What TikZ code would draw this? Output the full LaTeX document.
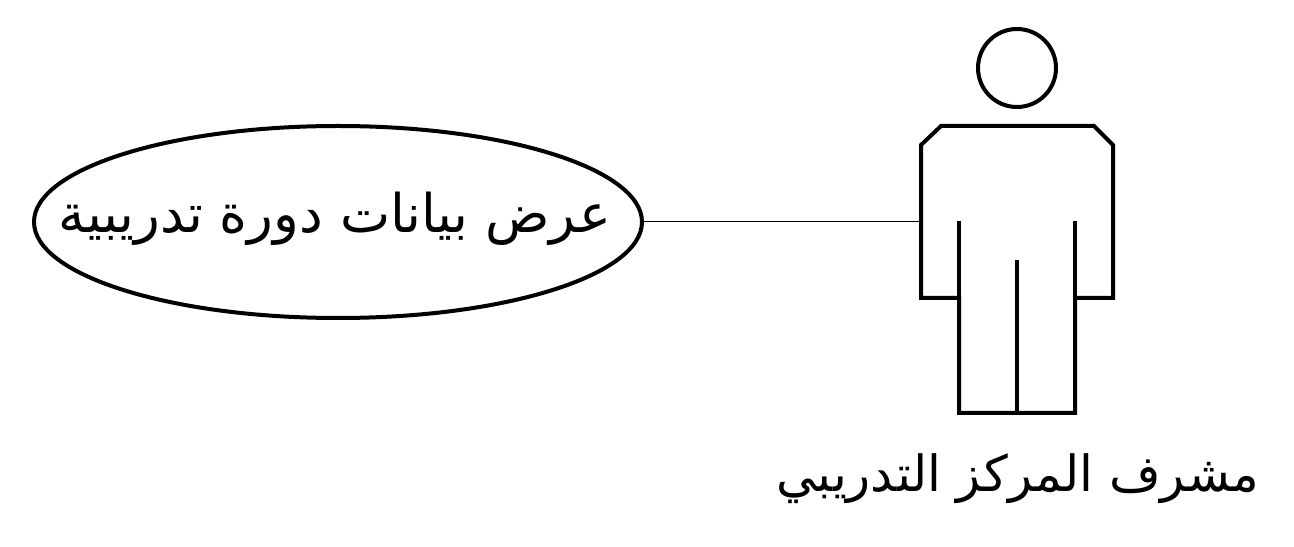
\documentclass[tikz,border=0pt]{standalone}
\usepackage{fontspec}
\newfontfamily\arabicfont[Script=Arabic]{DejaVu Sans}
\TeXXeTstate=1
\usetikzlibrary{shapes.geometric, positioning, calc}
\tikzset{
    usecase/.style={ellipse, draw, line width=4bp, minimum width=608bp, minimum height=192bp, inner sep=0pt},
    actorline/.style={line width=4bp, line join=miter},
    arabiclabel/.style={font=\arabicfont\fontsize{53.5}{58}\selectfont, inner sep=0pt}
}
\begin{document}
\begin{tikzpicture}[x=1bp, y=-1bp]
    \useasboundingbox (0,0) rectangle (1294,547);
    \node (viewdata) [usecase] at (338,222) {};
    \node (viewtext) [arabiclabel] at (335,219) {\beginR عرض بيانات دورة تدريبية\endR};
    \node (head) [circle, draw, line width=4bp, minimum size=78bp, inner sep=0pt] at (1017,68) {};
    \coordinate (shoulder) at (921,222);
    \draw [actorline] (941,126) -- (1094,126) -- (1113,145) -- (1113,298) -- (1075,298)
        -- (1075,413) -- (959,413) -- (959,298) -- (921,298) -- (921,145) -- cycle;
    \draw [actorline] (959,298) -- (959,221);
    \draw [actorline] (1075,298) -- (1075,221);
    \draw [actorline] (1017,413) -- (1017,260);
    \node (supervisor) [arabiclabel, font=\arabicfont\fontsize{50}{54}\selectfont] at (1018,479) {\beginR مشرف المركز التدريبي\endR};
    \draw [line width=1bp] (viewdata) -- (shoulder);
\end{tikzpicture}
\end{document}
